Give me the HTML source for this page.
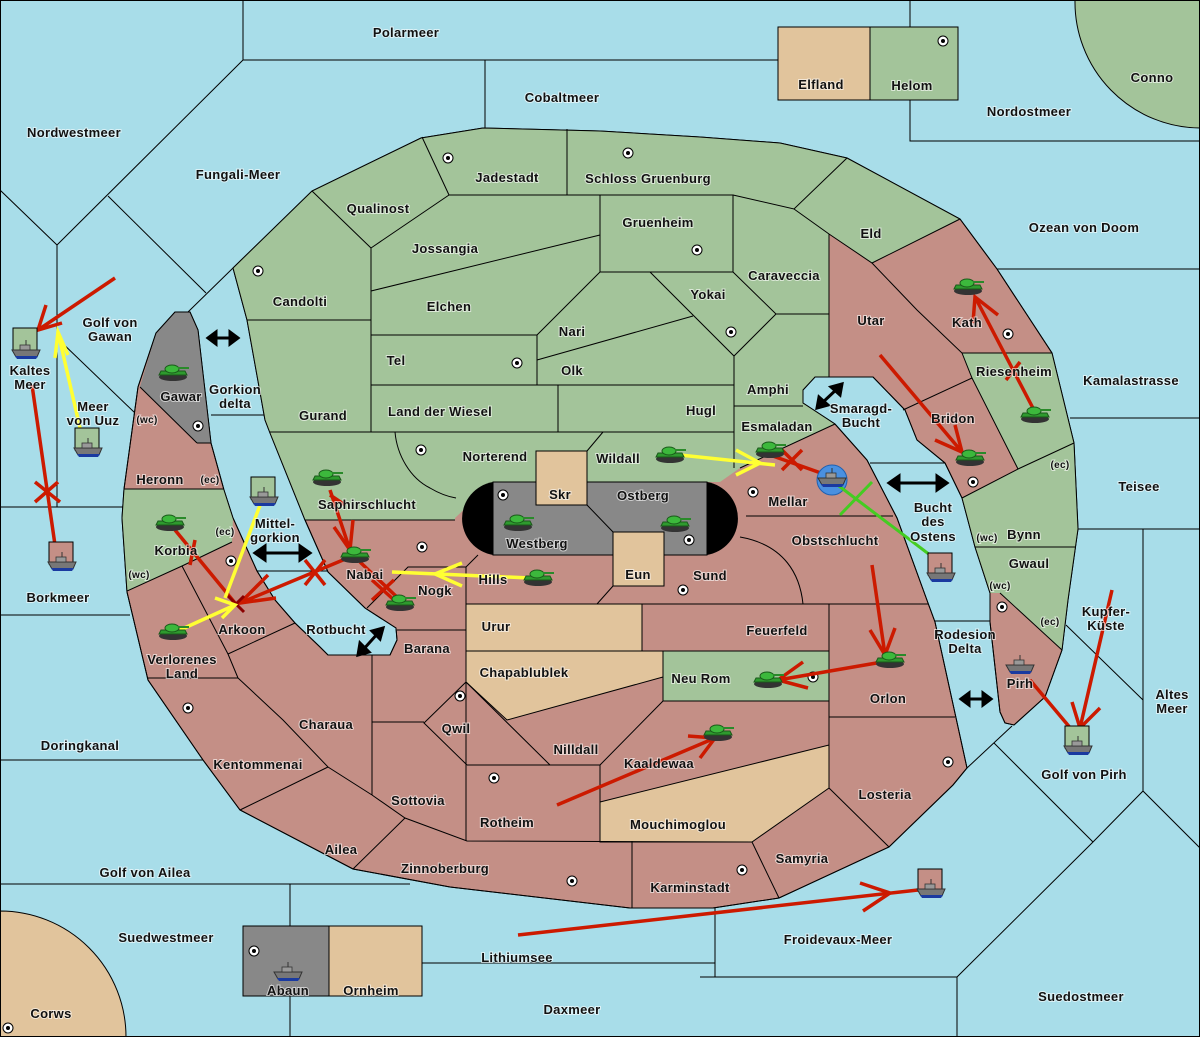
<!DOCTYPE html>
<html><head><meta charset="utf-8"><style>
html,body{margin:0;padding:0;background:#a8dde9;}
svg{display:block;}
text{font-family:"Liberation Sans",sans-serif;font-weight:bold;font-size:13px;fill:#111;stroke:#fff;stroke-width:2px;stroke-opacity:.6;paint-order:stroke;text-anchor:middle;letter-spacing:.3px}
.b{fill:none;stroke:#000;stroke-width:1}
</style></head><body>
<svg width="1200" height="1037" viewBox="0 0 1200 1037" xmlns="http://www.w3.org/2000/svg">
<defs>
<g id="tank">
<ellipse cx="0" cy="4" rx="14" ry="4" fill="#333"/>
<path d="M-14,2 L14,2 L12,-2 L-12,-2 Z" fill="#2e9a2e" stroke="#1a5a1a" stroke-width="1"/>
<ellipse cx="-1" cy="-4" rx="7" ry="4" fill="#3cb83c" stroke="#1a5a1a" stroke-width="1"/>
<rect x="5" y="-6" width="11" height="2" fill="#2a8a2a"/>
</g>
<g id="ship">
<path d="M-14,0 L14,0 L11,7 L-10,7 Z" fill="#777" stroke="#333" stroke-width="1"/>
<path d="M-11,6 L12,6 L10,9 L-9,9 Z" fill="#1a3aa0"/>
<rect x="-6" y="-5" width="10" height="5" fill="#999" stroke="#333" stroke-width=".8"/>
<line x1="0" y1="-10" x2="0" y2="-5" stroke="#333"/>
</g>
<g id="sc"><circle r="5" fill="#fff" stroke="#000" stroke-width="1"/><circle r="2" fill="#000"/></g>
</defs>
<rect width="1200" height="1037" fill="#a8dde9"/>
<!-- ocean borders -->
<g class="b">
<polyline points="243,0 243,60 910,60"/>
<line x1="485" y1="60" x2="485" y2="130"/>
<polyline points="910,0 910,141 1200,141"/>
<line x1="243" y1="60" x2="57" y2="245"/>
<line x1="0" y1="190" x2="57" y2="245"/>
<line x1="57" y1="245" x2="57" y2="507"/>
<line x1="108" y1="196" x2="206" y2="293"/>
<line x1="233" y1="268" x2="188" y2="312"/>
<line x1="57" y1="338" x2="135" y2="413"/>
<line x1="211" y1="415" x2="265" y2="415"/>
<line x1="0" y1="507" x2="123" y2="507"/>
<line x1="0" y1="615" x2="130" y2="615"/>
<line x1="0" y1="760" x2="204" y2="760"/>
<line x1="0" y1="884" x2="410" y2="884"/>
<line x1="290" y1="884" x2="290" y2="1037"/>
<line x1="422" y1="963" x2="715" y2="963"/>
<line x1="715" y1="908" x2="715" y2="977"/>
<line x1="700" y1="977" x2="957" y2="977"/>
<line x1="957" y1="977" x2="957" y2="1037"/>
<polyline points="957,977 1093,842 1143,791 1200,848"/>
<line x1="1093" y1="842" x2="994" y2="743"/>
<line x1="967" y1="768" x2="1012" y2="726"/>
<line x1="1143" y1="529" x2="1143" y2="791"/>
<line x1="1066" y1="625" x2="1143" y2="700"/>
<line x1="997" y1="269" x2="1200" y2="269"/>
<line x1="1070" y1="418" x2="1200" y2="418"/>
<line x1="1078" y1="529" x2="1200" y2="529"/>
<line x1="935" y1="621" x2="990" y2="621"/>
<line x1="870" y1="463" x2="945" y2="463"/>
<line x1="257" y1="571" x2="330" y2="571"/>
</g>
<path d="M1075,0 A126,126 0 0 0 1200,128 L1200,0 Z" fill="#a3c49a" stroke="#000"/>
<path d="M0,911 A126,126 0 0 1 126,1037 L0,1037 Z" fill="#e1c49c" stroke="#000"/>
<rect x="778" y="27" width="92" height="73" fill="#e1c49c" stroke="#000"/>
<rect x="870" y="27" width="88" height="73" fill="#a3c49a" stroke="#000"/>
<rect x="243" y="926" width="86" height="70" fill="#888" stroke="#000"/>
<rect x="329" y="926" width="93" height="70" fill="#e1c49c" stroke="#000"/>
<!-- land -->
<polygon fill="#c48f86" stroke="#000" stroke-width="1" points="233,268 312,191 421,138 483,128 600,131 700,137 780,143 847,158 960,219 997,269 1052,353 1074,443 1078,529 1068,600 1062,650 1045,697 1014,725 1005,723 1000,712 990,622 990,593 975,547 962,498 945,463 917,440 905,410 873,377 815,377 803,390 803,403 835,424 867,460 897,518 928,603 935,622 967,768 953,785 889,847 779,898 713,908 630,908 450,887 353,869 240,810 203,760 148,680 127,592 122,518 124,489 138,387 156,333 175,312 190,312 198,330 211,443 224,490 233,518 243,540 257,571 275,600 295,623 320,647 328,655 390,655 397,640 396,628 365,608 328,572 305,520 270,433 265,420 247,320"/>
<polygon fill="#a3c49a" points="233,268 312,191 421,138 483,128 600,131 700,137 780,143 847,158 960,219 872,263 829,234 829,377 815,377 803,390 803,403 835,424 740,468 720,482 493,482 455,518 455,520 305,520 270,433 265,420 247,320"/>
<polygon fill="#a3c49a" points="962,353 1052,353 1074,443 1078,529 1068,600 1062,650 1000,593 990,593 975,547 962,498 1018,469 972,378"/>
<polygon fill="#888" points="156,333 175,312 190,312 198,330 211,443 197,443 140,387"/>
<polygon fill="#a3c49a" points="124,489 224,489 233,518 232,542 182,566 127,591 122,518"/>
<polygon fill="#e1c49c" stroke="#000" points="466,604 642,604 642,651 466,651"/>
<polygon fill="#e1c49c" stroke="#000" points="466,651 663,651 663,677 507,720 466,682"/>
<polygon fill="#a3c49a" stroke="#000" points="663,651 829,651 829,701 663,701"/>
<polygon fill="#e1c49c" stroke="#000" points="600,802 829,745 829,788 752,842 600,842"/>
<!-- outline redraw -->
<polygon fill="none" stroke="#000" points="233,268 312,191 421,138 483,128 600,131 700,137 780,143 847,158 960,219 997,269 1052,353 1074,443 1078,529 1068,600 1062,650 1045,697 1014,725 1005,723 1000,712 990,622 990,593 975,547 962,498 945,463 917,440 905,410 873,377 815,377 803,390 803,403 835,424 867,460 897,518 928,603 935,622 967,768 953,785 889,847 779,898 713,908 630,908 450,887 353,869 240,810 203,760 148,680 127,592 122,518 124,489 138,387 156,333 175,312 190,312 198,330 211,443 224,490 233,518 243,540 257,571 275,600 295,623 320,647 328,655 390,655 397,640 396,628 365,608 328,572 305,520 270,433 265,420 247,320"/>
<!-- internal borders -->
<g class="b">
<line x1="312" y1="191" x2="371" y2="248"/>
<line x1="422" y1="137" x2="449" y2="195"/>
<line x1="567" y1="129" x2="567" y2="195"/>
<line x1="449" y1="195" x2="733" y2="195"/>
<line x1="449" y1="195" x2="371" y2="248"/>
<polyline points="733,195 794,209 847,158"/>
<polyline points="794,209 829,234 872,263 960,219"/>
<rect x="600" y="195" width="133" height="77"/>
<line x1="371" y1="248" x2="371" y2="432"/>
<line x1="247" y1="320" x2="371" y2="320"/>
<line x1="371" y1="291" x2="600" y2="235"/>
<line x1="371" y1="335" x2="537" y2="335"/>
<line x1="537" y1="335" x2="600" y2="272"/>
<line x1="537" y1="335" x2="537" y2="385"/>
<line x1="537" y1="360" x2="693" y2="316"/>
<polyline points="650,272 734,356 776,314 733,272"/>
<line x1="776" y1="314" x2="829" y2="314"/>
<line x1="371" y1="385" x2="734" y2="385"/>
<line x1="734" y1="356" x2="734" y2="468"/>
<line x1="734" y1="406" x2="803" y2="406"/>
<line x1="558" y1="385" x2="558" y2="432"/>
<line x1="270" y1="432" x2="734" y2="432"/>
<path d="M395,432 C397,455 410,478 430,488 C440,494 450,497 456,498"/>
<line x1="587" y1="451" x2="603" y2="432"/>
<polyline points="740,468 835,424"/>
<line x1="305" y1="520" x2="455" y2="520"/>
<line x1="829" y1="234" x2="829" y2="377"/>
<polyline points="872,263 917,310 962,353 972,378 1018,469"/>
<line x1="962" y1="353" x2="1052" y2="353"/>
<line x1="903" y1="410" x2="972" y2="378"/>
<polyline points="962,498 1018,469 1074,443"/>
<line x1="975" y1="547" x2="1076" y2="547"/>
<line x1="1000" y1="593" x2="1062" y2="650"/>
<line x1="746" y1="516" x2="893" y2="516"/>
<path d="M740,537 C785,545 800,575 803,604"/>
<line x1="466" y1="604" x2="928" y2="604"/>
<polyline points="466,567 408,567 367,608"/>
<line x1="466" y1="567" x2="478" y2="555"/>
<line x1="466" y1="567" x2="466" y2="841"/>
<line x1="397" y1="630" x2="466" y2="630"/>
<line x1="613" y1="586" x2="597" y2="604"/>
<line x1="829" y1="604" x2="829" y2="788"/>
<line x1="829" y1="717" x2="955" y2="717"/>
<line x1="663" y1="701" x2="600" y2="765"/>
<line x1="467" y1="765" x2="600" y2="765"/>
<line x1="600" y1="765" x2="600" y2="842"/>
<polyline points="466,682 424,723 467,765"/>
<line x1="466" y1="682" x2="550" y2="765"/>
<line x1="372" y1="655" x2="372" y2="795"/>
<line x1="372" y1="722" x2="424" y2="722"/>
<polyline points="372,795 405,818 467,841 752,842"/>
<line x1="353" y1="869" x2="405" y2="818"/>
<line x1="632" y1="841" x2="632" y2="908"/>
<line x1="752" y1="842" x2="779" y2="898"/>
<line x1="829" y1="788" x2="889" y2="847"/>
<polyline points="197,443 211,443"/>
<line x1="140" y1="387" x2="197" y2="443"/>
<line x1="124" y1="489" x2="224" y2="489"/>
<polyline points="127,591 182,566 232,542"/>
<polyline points="182,566 228,654 238,678"/>
<line x1="148" y1="678" x2="238" y2="678"/>
<line x1="228" y1="654" x2="295" y2="623"/>
<polyline points="238,678 283,720 328,767 372,795"/>
<line x1="240" y1="810" x2="328" y2="767"/>
</g>
<!-- central fortress -->
<path d="M493,482 L493,555 A37,37 0 0 1 493,482 Z" fill="#000"/>
<path d="M707,482 L707,555 A37,37 0 0 0 707,482 Z" fill="#000"/>
<rect x="493" y="482" width="214" height="73" fill="#888" stroke="#000"/>
<rect x="536" y="451" width="51" height="54" fill="#e1c49c" stroke="#000"/>
<rect x="613" y="532" width="51" height="54" fill="#e1c49c" stroke="#000"/>
<line x1="587" y1="505" x2="613" y2="532" stroke="#000"/>
<!-- supply centers -->
<g>
<use href="#sc" x="448" y="158"/><use href="#sc" x="628" y="153"/><use href="#sc" x="943" y="41"/><use href="#sc" x="697" y="250"/><use href="#sc" x="258" y="271"/><use href="#sc" x="517" y="363"/><use href="#sc" x="731" y="332"/><use href="#sc" x="1008" y="334"/><use href="#sc" x="973" y="482"/><use href="#sc" x="198" y="426"/><use href="#sc" x="421" y="450"/><use href="#sc" x="503" y="495"/><use href="#sc" x="422" y="547"/><use href="#sc" x="689" y="540"/><use href="#sc" x="753" y="492"/><use href="#sc" x="683" y="590"/><use href="#sc" x="231" y="561"/><use href="#sc" x="813" y="677"/><use href="#sc" x="460" y="696"/><use href="#sc" x="188" y="708"/><use href="#sc" x="948" y="762"/><use href="#sc" x="494" y="778"/><use href="#sc" x="742" y="870"/><use href="#sc" x="572" y="881"/><use href="#sc" x="254" y="951"/><use href="#sc" x="8" y="1028"/><use href="#sc" x="1002" y="607"/>
</g>
<!-- order lines -->
<g stroke="#cc1a00" stroke-width="3.5" fill="none">
<line x1="115" y1="278" x2="38" y2="330"/><polyline points="46,305 38,330 62,323"/>
<line x1="55" y1="545" x2="32" y2="385"/>
<line x1="35" y1="482" x2="60" y2="502"/><line x1="58" y1="482" x2="35" y2="502"/>
<line x1="175" y1="530" x2="235" y2="603"/>
<line x1="355" y1="555" x2="240" y2="603"/><polyline points="268,575 240,603 276,598"/>
<line x1="195" y1="540" x2="190" y2="565"/>
<line x1="305" y1="560" x2="325" y2="585"/><line x1="305" y1="585" x2="325" y2="560"/>
<line x1="330" y1="490" x2="350" y2="550"/><polyline points="334,527 350,550 353,520"/>
<line x1="330" y1="495" x2="345" y2="505"/>
<line x1="400" y1="600" x2="360" y2="562"/>
<line x1="372" y1="580" x2="394" y2="600"/><line x1="372" y1="600" x2="394" y2="580"/>
<line x1="770" y1="455" x2="835" y2="478"/>
<line x1="782" y1="450" x2="802" y2="470"/><line x1="782" y1="470" x2="802" y2="450"/>
<line x1="880" y1="355" x2="962" y2="452"/><polyline points="935,440 962,452 955,425"/>
<line x1="1035" y1="412" x2="975" y2="297"/><polyline points="973,323 975,297 998,315"/>
<line x1="1006" y1="380" x2="1020" y2="362"/>
<line x1="872" y1="565" x2="885" y2="655"/><polyline points="870,630 885,655 895,628"/>
<line x1="888" y1="661" x2="778" y2="680"/><polyline points="803,662 778,680 808,688"/>
<line x1="557" y1="805" x2="715" y2="738"/><polyline points="688,736 715,738 700,758"/>
<line x1="518" y1="935" x2="918" y2="890"/><polyline points="860,883 890,893 863,911"/>
<line x1="1030" y1="680" x2="1072" y2="730"/>
<line x1="1112" y1="590" x2="1080" y2="728"/><polyline points="1072,702 1080,728 1100,708"/>
</g>
<g stroke="#8b0000" stroke-width="3"><line x1="228" y1="596" x2="244" y2="612"/><line x1="244" y1="596" x2="228" y2="612"/></g>
<g stroke="#ffff33" stroke-width="3.5" fill="none">
<line x1="80" y1="428" x2="58" y2="332"/><polyline points="55,358 58,332 68,355"/>
<line x1="180" y1="630" x2="235" y2="605"/><polyline points="215,598 235,605 222,618"/>
<line x1="262" y1="500" x2="225" y2="598"/>
<line x1="530" y1="578" x2="392" y2="572"/><polyline points="462,563 435,574 462,586"/>
<line x1="680" y1="455" x2="775" y2="465"/><polyline points="736,450 760,463 736,475"/>
</g>
<circle cx="832" cy="480" r="15" fill="#4a90e0" stroke="#2060b0"/>
<g stroke="#44cc22" stroke-width="3"><line x1="835" y1="483" x2="930" y2="555"/><line x1="840" y1="515" x2="872" y2="482"/></g>
<!-- double arrows -->
<g stroke="#000" stroke-width="3" fill="#000">
<line x1="213" y1="338" x2="233" y2="338"/><polygon points="208,338 216,332 216,344"/><polygon points="238,338 230,332 230,344"/>
<line x1="262" y1="553" x2="303" y2="553"/><polygon points="255,553 265,546 265,560"/><polygon points="310,553 300,546 300,560"/>
<line x1="362" y1="651" x2="379" y2="632"/><polygon points="358,655 360,643 369,652"/><polygon points="383,628 380,639 372,631"/>
<line x1="821" y1="404" x2="838" y2="388"/><polygon points="817,408 819,397 828,405"/><polygon points="842,384 840,395 831,387"/>
<line x1="896" y1="483" x2="940" y2="483"/><polygon points="889,483 899,476 899,490"/><polygon points="947,483 937,476 937,490"/>
<line x1="967" y1="699" x2="985" y2="699"/><polygon points="961,699 969,693 969,705"/><polygon points="991,699 983,693 983,705"/>
</g>
<!-- unit boxes & ships -->
<rect x="13" y="328" width="24" height="22" fill="#a3c49a" stroke="#000"/>
<rect x="75" y="428" width="24" height="22" fill="#a3c49a" stroke="#000"/>
<rect x="49" y="542" width="24" height="22" fill="#c48f86" stroke="#000"/>
<rect x="251" y="477" width="24" height="22" fill="#a3c49a" stroke="#000"/>
<rect x="928" y="553" width="24" height="22" fill="#c48f86" stroke="#000"/>
<rect x="1065" y="726" width="24" height="22" fill="#a3c49a" stroke="#000"/>
<rect x="918" y="869" width="24" height="22" fill="#c48f86" stroke="#000"/>
<use href="#ship" x="26" y="350"/><use href="#ship" x="88" y="448"/><use href="#ship" x="62" y="562"/><use href="#ship" x="264" y="497"/><use href="#ship" x="941" y="573"/><use href="#ship" x="1078" y="746"/><use href="#ship" x="931" y="889"/><use href="#ship" x="288" y="972"/><use href="#ship" x="1020" y="665"/><use href="#ship" x="832" y="478"/>
<g>
<use href="#tank" x="173" y="373"/><use href="#tank" x="170" y="523"/><use href="#tank" x="173" y="632"/><use href="#tank" x="327" y="478"/><use href="#tank" x="355" y="555"/><use href="#tank" x="400" y="603"/><use href="#tank" x="538" y="578"/><use href="#tank" x="518" y="523"/><use href="#tank" x="675" y="524"/><use href="#tank" x="670" y="455"/><use href="#tank" x="770" y="450"/><use href="#tank" x="768" y="680"/><use href="#tank" x="890" y="660"/><use href="#tank" x="718" y="733"/><use href="#tank" x="968" y="287"/><use href="#tank" x="1035" y="415"/><use href="#tank" x="970" y="458"/>
</g>
<!-- labels -->
<g>
<text x="406" y="37">Polarmeer</text><text x="562" y="102">Cobaltmeer</text><text x="821" y="89">Elfland</text><text x="912" y="90">Helom</text><text x="1152" y="82">Conno</text>
<text x="74" y="137">Nordwestmeer</text><text x="1029" y="116">Nordostmeer</text><text x="238" y="179">Fungali-Meer</text>
<text x="507" y="182">Jadestadt</text><text x="648" y="183">Schloss Gruenburg</text><text x="378" y="213">Qualinost</text><text x="658" y="227">Gruenheim</text>
<text x="871" y="238">Eld</text><text x="1084" y="232">Ozean von Doom</text><text x="445" y="253">Jossangia</text><text x="784" y="280">Caraveccia</text>
<text x="300" y="306">Candolti</text><text x="449" y="311">Elchen</text><text x="708" y="299">Yokai</text><text x="110" y="327">Golf von</text><text x="110" y="341">Gawan</text>
<text x="871" y="325">Utar</text><text x="967" y="327">Kath</text><text x="572" y="336">Nari</text><text x="396" y="365">Tel</text><text x="572" y="375">Olk</text>
<text x="1014" y="376">Riesenheim</text><text x="1131" y="385">Kamalastrasse</text><text x="30" y="375">Kaltes</text><text x="30" y="389">Meer</text>
<text x="768" y="394">Amphi</text><text x="181" y="401">Gawar</text><text x="235" y="394">Gorkion</text><text x="235" y="408">delta</text>
<text x="93" y="411">Meer</text><text x="93" y="425">von Uuz</text><text x="323" y="420">Gurand</text><text x="440" y="416">Land der Wiesel</text><text x="701" y="415">Hugl</text>
<text x="861" y="413">Smaragd-</text><text x="861" y="427">Bucht</text><text x="953" y="423">Bridon</text><text x="147" y="423" style="font-size:10px">(wc)</text><text x="777" y="431">Esmaladan</text>
<text x="495" y="461">Norterend</text><text x="618" y="463">Wildall</text><text x="160" y="484">Heronn</text><text x="210" y="483" style="font-size:10px">(ec)</text><text x="1060" y="468" style="font-size:10px">(ec)</text>
<text x="1139" y="491">Teisee</text><text x="560" y="499">Skr</text><text x="643" y="500">Ostberg</text><text x="788" y="506">Mellar</text><text x="367" y="509">Saphirschlucht</text>
<text x="933" y="512">Bucht</text><text x="933" y="526">des</text><text x="933" y="541">Ostens</text><text x="275" y="528">Mittel-</text><text x="275" y="542">gorkion</text>
<text x="225" y="535" style="font-size:10px">(ec)</text><text x="1024" y="539">Bynn</text><text x="987" y="541" style="font-size:10px">(wc)</text><text x="835" y="545">Obstschlucht</text><text x="537" y="548">Westberg</text>
<text x="176" y="555">Korbia</text><text x="1029" y="568">Gwaul</text><text x="365" y="579">Nabai</text><text x="638" y="579">Eun</text><text x="710" y="580">Sund</text><text x="139" y="578" style="font-size:10px">(wc)</text>
<text x="493" y="584">Hills</text><text x="1000" y="589" style="font-size:10px">(wc)</text><text x="435" y="595">Nogk</text><text x="58" y="602">Borkmeer</text>
<text x="1106" y="616">Kupfer-</text><text x="1106" y="630">Küste</text><text x="1050" y="625" style="font-size:10px">(ec)</text><text x="496" y="631">Urur</text><text x="777" y="635">Feuerfeld</text>
<text x="242" y="634">Arkoon</text><text x="336" y="634">Rotbucht</text><text x="965" y="639">Rodesion</text><text x="965" y="653">Delta</text><text x="427" y="653">Barana</text>
<text x="182" y="664">Verlorenes</text><text x="182" y="678">Land</text><text x="524" y="677">Chapablublek</text><text x="701" y="683">Neu Rom</text><text x="1020" y="688">Pirh</text>
<text x="888" y="703">Orlon</text><text x="1172" y="699">Altes</text><text x="1172" y="713">Meer</text><text x="456" y="733">Qwil</text><text x="326" y="729">Charaua</text>
<text x="80" y="750">Doringkanal</text><text x="576" y="754">Nilldall</text><text x="659" y="768">Kaaldewaa</text><text x="258" y="769">Kentommenai</text><text x="1084" y="779">Golf von Pirh</text>
<text x="885" y="799">Losteria</text><text x="418" y="805">Sottovia</text><text x="507" y="827">Rotheim</text><text x="678" y="829">Mouchimoglou</text><text x="341" y="854">Ailea</text>
<text x="802" y="863">Samyria</text><text x="445" y="873">Zinnoberburg</text><text x="145" y="877">Golf von Ailea</text><text x="690" y="892">Karminstadt</text>
<text x="166" y="942">Suedwestmeer</text><text x="838" y="944">Froidevaux-Meer</text><text x="517" y="962">Lithiumsee</text><text x="288" y="995">Abaun</text><text x="371" y="995">Ornheim</text>
<text x="1081" y="1001">Suedostmeer</text><text x="572" y="1014">Daxmeer</text><text x="51" y="1018">Corws</text>
</g>
<rect x="0.5" y="0.5" width="1199" height="1036" fill="none" stroke="#000"/>
</svg>
</body></html>
